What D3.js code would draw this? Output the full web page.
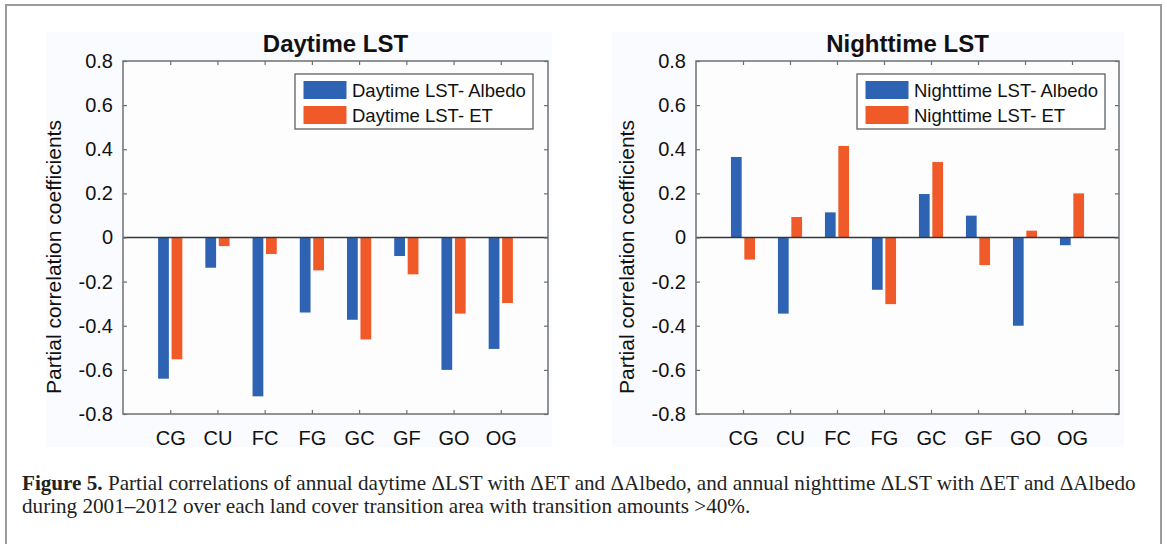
<!DOCTYPE html>
<html>
<head>
<meta charset="utf-8">
<script src="https://cdn.jsdelivr.net/npm/d3@7/dist/d3.min.js"></script>
<style>
  html, body { margin: 0; padding: 0; background: #ffffff; }
  svg { display: block; }
</style>
</head>
<body>
<svg id="chart" width="1167" height="544"></svg>
<script>
// ---------- DATA ----------
const categories = ["CG", "CU", "FC", "FG", "GC", "GF", "GO", "OG"];
const dayAlbedo   = [-0.64, -0.137, -0.72, -0.34, -0.373, -0.084, -0.60, -0.505];
const dayET       = [-0.552, -0.039, -0.075, -0.149, -0.462, -0.167, -0.345, -0.297];
const nightAlbedo = [0.365, -0.345, 0.114, -0.237, 0.197, 0.099, -0.40, -0.035];
const nightET     = [-0.10, 0.093, 0.415, -0.302, 0.342, -0.125, 0.031, 0.200];
const yTicks = [0.8, 0.6, 0.4, 0.2, 0, -0.2, -0.4, -0.6, -0.8];
const panelTitles = ["Daytime LST", "Nighttime LST"];
const legendLabels = [
  ["Daytime LST- Albedo", "Daytime LST- ET"],
  ["Nighttime LST- Albedo", "Nighttime LST- ET"]
];
const yLabel = "Partial correlation coefficients";
const seriesKeys = ["albedo", "et"];

(function () {
// ---------- STYLE ----------
const colors = { albedo: "#2e63b4", et: "#f05a28" };
const svg = d3.select("#chart");
const locale = d3.formatLocale({ decimal: ".", thousands: ",", grouping: [3], currency: ["", ""], minus: "-" });

// outer frame
svg.append("path")
  .attr("d", "M6,544 L6,5 L1161,5 L1161,544")
  .attr("fill", "none").attr("stroke", "#9b9b9f").attr("stroke-width", 2);

const panels = [
  { left: 123, right: 548, title: panelTitles[0], a: dayAlbedo, e: dayET, legend: legendLabels[0], legX: 295, legW: 238, bg: [46, 32, 552, 447] },
  { left: 696, right: 1119, title: panelTitles[1], a: nightAlbedo, e: nightET, legend: legendLabels[1], legX: 857, legW: 248, bg: [612, 32, 1124, 447] }
];
const axTop = 61, axBottom = 414;

panels.forEach(p => {
  const g = svg.append("g");
  g.append("rect").attr("x", p.bg[0]).attr("y", p.bg[1])
    .attr("width", p.bg[2] - p.bg[0]).attr("height", p.bg[3] - p.bg[1])
    .attr("fill", "#fafbfe");

  const xLin = d3.scaleLinear().domain([0, categories.length + 1]).range([p.left, p.right]);
  const x0 = d3.scaleBand().domain(categories)
    .range([xLin(0.5), xLin(categories.length + 0.5)]).padding(0);
  const bw = x0.bandwidth();
  const x1 = d3.scaleBand().domain(seriesKeys)
    .range([bw * 0.5 - 0.285 * bw, bw * 0.5 + 0.285 * bw])
    .paddingInner(0.2).paddingOuter(0.1);
  const y = d3.scaleLinear().domain([-0.8, 0.8]).range([axBottom, axTop]);

  g.append("rect").attr("x", p.left).attr("y", axTop)
    .attr("width", p.right - p.left).attr("height", axBottom - axTop)
    .attr("fill", "#fdfdfe");

  const rows = categories.map((c, i) => ({ c, albedo: p.a[i], et: p.e[i] }));
  const grp = g.selectAll(".grp").data(rows).join("g").attr("class", "grp")
    .attr("transform", d => `translate(${x0(d.c)},0)`);
  grp.selectAll("rect").data(d => seriesKeys.map(k => ({ k, v: d[k] }))).join("rect")
    .attr("x", d => x1(d.k))
    .attr("width", x1.bandwidth())
    .attr("y", d => y(Math.max(0, d.v)))
    .attr("height", d => Math.abs(y(d.v) - y(0)))
    .attr("fill", d => colors[d.k]);

  g.append("line").attr("x1", p.left).attr("x2", p.right)
    .attr("y1", y(0)).attr("y2", y(0))
    .attr("stroke", "#35383b").attr("stroke-width", 1.3);

  const axisColor = "#6c7173";
  const f1 = locale.format(".1f");
  const fmt = d => d === 0 ? "0" : f1(d);
  const yAxis = g.append("g").attr("transform", `translate(${p.left},0)`)
    .call(d3.axisLeft(y).tickValues(yTicks).tickSize(-4).tickPadding(10).tickFormat(fmt));
  const yAxisR = g.append("g").attr("transform", `translate(${p.right},0)`)
    .call(d3.axisRight(y).tickValues(yTicks).tickSize(-4).tickFormat(""));
  const xAxis = g.append("g").attr("transform", `translate(0,${axBottom})`)
    .call(d3.axisBottom(xLin).tickValues(d3.range(1, categories.length + 1)).tickSize(-4).tickPadding(17)
      .tickFormat(i => categories[i - 1]));
  const xAxisT = g.append("g").attr("transform", `translate(0,${axTop})`)
    .call(d3.axisTop(xLin).tickValues(d3.range(1, categories.length + 1)).tickSize(-4).tickFormat(""));
  [yAxis, yAxisR, xAxis, xAxisT].forEach(a => {
    a.select(".domain").remove();
    a.selectAll(".tick line").attr("stroke", axisColor).attr("stroke-width", 1.2);
    a.selectAll("text").attr("fill", "#111").attr("font-family", "Liberation Sans, Arial, sans-serif").attr("font-size", 20);
  });
  g.append("rect").attr("x", p.left).attr("y", axTop)
    .attr("width", p.right - p.left).attr("height", axBottom - axTop)
    .attr("fill", "none").attr("stroke", axisColor).attr("stroke-width", 1.5);

  g.append("text").attr("x", (p.left + p.right) / 2).attr("y", 52)
    .attr("text-anchor", "middle").attr("font-family", "Liberation Sans, Arial, sans-serif")
    .attr("font-weight", "bold").attr("font-size", 24).attr("fill", "#111").text(p.title);

  g.append("text").attr("transform", `translate(${p.left - 62},257) rotate(-90)`)
    .attr("text-anchor", "middle").attr("font-family", "Liberation Sans, Arial, sans-serif")
    .attr("font-size", 21).attr("fill", "#111").text(yLabel);

  const lg = g.append("g");
  lg.append("rect").attr("x", p.legX).attr("y", 74).attr("width", p.legW).attr("height", 55)
    .attr("fill", "#ffffff").attr("stroke", "#5d6264").attr("stroke-width", 1.3);
  seriesKeys.forEach((k, i) => {
    lg.append("rect").attr("x", p.legX + 8.5).attr("y", 81 + i * 25).attr("width", 43).attr("height", 18)
      .attr("fill", colors[k]);
    lg.append("text").attr("x", p.legX + 57).attr("y", 97 + i * 25)
      .attr("font-family", "Liberation Sans, Arial, sans-serif").attr("font-size", 18.5)
      .attr("fill", "#111").text(p.legend[i]);
  });
});

const cap = svg.append("g").attr("font-family", "Liberation Serif, Times New Roman, serif").attr("font-size", 21.15).attr("fill", "#222");
const l1 = cap.append("text").attr("x", 22).attr("y", 490);
l1.append("tspan").attr("font-weight", "bold").text("Figure 5.");
l1.append("tspan").text(" Partial correlations of annual daytime ΔLST with ΔET and ΔAlbedo, and annual nighttime ΔLST with ΔET and ΔAlbedo");
cap.append("text").attr("x", 22).attr("y", 513)
  .text("during 2001–2012 over each land cover transition area with transition amounts >40%.");
})();
</script>
</body>
</html>
